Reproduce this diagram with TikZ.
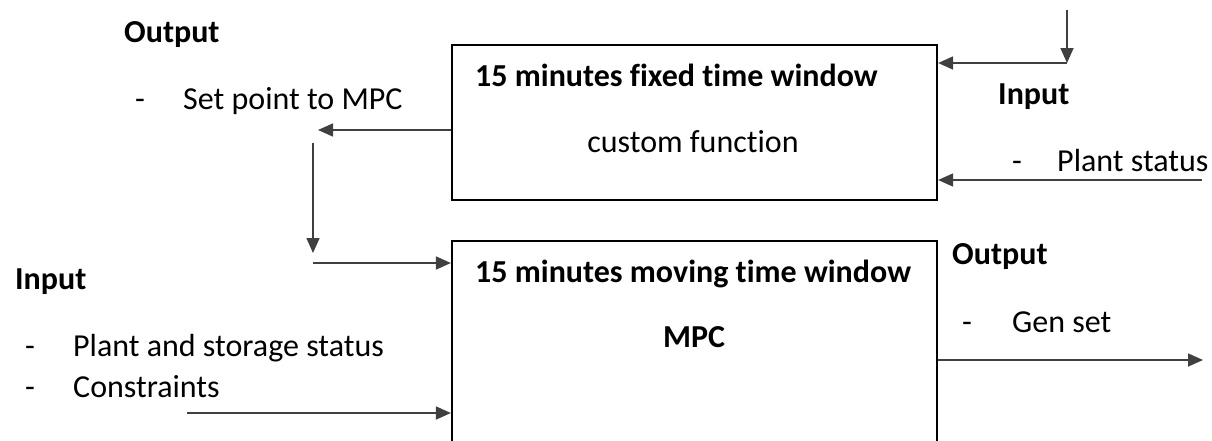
\documentclass[tikz,border=0pt]{standalone}
\usepackage{fontspec}
\setmainfont{Carlito}[Ligatures=NoCommon]
\usetikzlibrary{arrows.meta,positioning}

\begin{document}
\begin{tikzpicture}[
    x=1pt,
    y=-1pt,
    >={Triangle[length=15pt,width=13pt]},
    font=\fontsize{32}{38}\selectfont,
    line join=miter,
    winbox/.style={
        draw,
        line width=2.2pt,
        rectangle,
        minimum width=485pt,
        inner sep=0pt
    },
    label/.style={anchor=mid west, inner sep=0pt, yshift=-7pt},
    heading/.style={label, font=\fontsize{32}{38}\selectfont\bfseries},
    signal/.style={->, line width=1.6pt, draw=black!75}
]

\clip (0,0) rectangle (1212,440);

% =========================
% Boxes
% =========================
\node[winbox, minimum height=155pt] (fixed) at (694.5,122.5) {};
\node[winbox, minimum height=230pt] (moving) at (694.5,356) {};

\node[heading] (fixedtitle) at (475,77) {15 minutes fixed time window};
\node[label, anchor=mid] (fixedbody) at (693,143) {custom function};

\node[heading] (movingtitle) at (475,273) {15 minutes moving time window};
\node[heading, anchor=mid] (movingbody) at (694,338) {MPC};

% =========================
% Labels
% =========================
\node[heading] (outA) at (124,33) {Output};
\node[label] (outAdash) at (135,100) {-};
\node[label] (setpoint) at (183,100) {Set point to MPC};

\node[heading] (inA) at (998,95) {Input};
\node[label] (inAdash) at (1012,162) {-};
\node[label] (plantstat) at (1057,162) {Plant status};

\node[heading] (inB) at (15,280) {Input};
\node[label] (inBdashA) at (25,347) {-};
\node[label] (storage) at (73,347) {Plant and storage status};
\node[label] (inBdashB) at (25,388) {-};
\node[label] (constr) at (73,388) {Constraints};

\node[heading] (outB) at (952,255) {Output};
\node[label] (outBdash) at (962,323) {-};
\node[label] (genset) at (1012,323) {Gen set};

% =========================
% Free ends
% =========================
\coordinate (spOut) at (318,130);
\coordinate (spTop) at (313,143);
\coordinate (spDown) at (313,253);
\coordinate (spIn) at (313,263);
\coordinate (statTop) at (1067,10);
\coordinate (statCorner) at (1067,63);
\coordinate (plantIn) at (1202,180);
\coordinate (constrIn) at (187,413);
\coordinate (gensetOut) at (1203,360);

% =========================
% Connectors
% =========================
\draw[signal] (fixed.west |- spOut) -- (spOut);
\draw[signal] (spTop) -- (spDown);
\draw[signal] (spIn) -- (moving.west |- spIn);

\draw[signal] (statTop) -- (statCorner);
\draw[signal] (statCorner) -- (fixed.east |- statCorner);
\draw[signal] (plantIn) -- (fixed.east |- plantIn);

\draw[signal] (constrIn) -- (moving.west |- constrIn);
\draw[signal] (moving.east |- gensetOut) -- (gensetOut);

\end{tikzpicture}
\end{document}
